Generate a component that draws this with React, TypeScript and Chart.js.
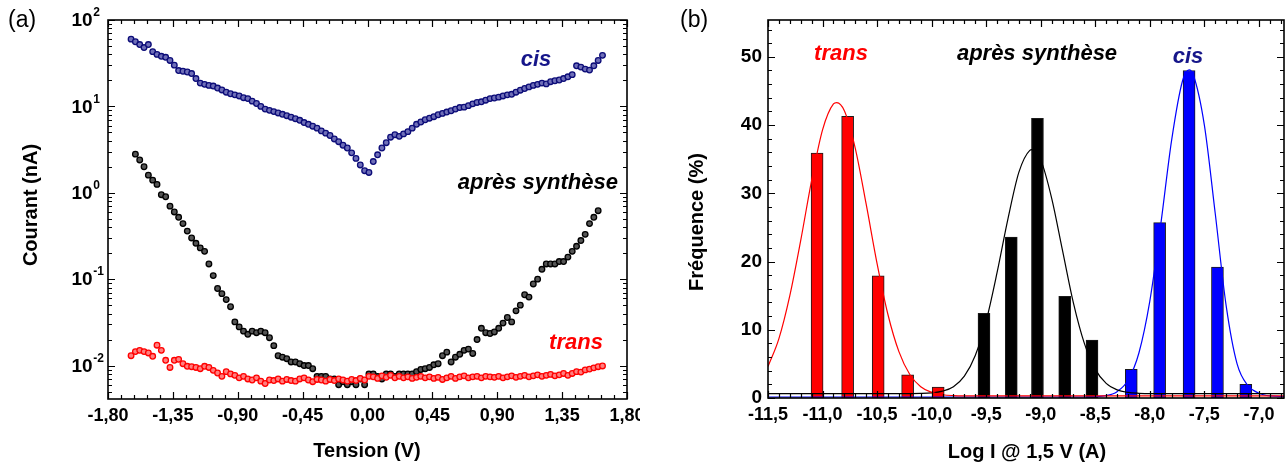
import React, { useEffect, useRef } from 'react';
import { Chart, registerables } from 'chart.js';

Chart.register(...registerables);

// ---------- Panel (a): I(V) curves ----------
const VOLTAGE = [
  -1.64, -1.61, -1.58, -1.55, -1.52, -1.49, -1.46, -1.43, -1.40, -1.37,
  -1.34, -1.31, -1.28, -1.25, -1.22, -1.19, -1.16, -1.13, -1.10, -1.07,
  -1.04, -1.01, -0.98, -0.95, -0.92, -0.89, -0.86, -0.83, -0.80, -0.77,
  -0.74, -0.71, -0.68, -0.65, -0.62, -0.59, -0.56, -0.53, -0.50, -0.47,
  -0.44, -0.41, -0.38, -0.35, -0.32, -0.29, -0.26, -0.23, -0.20, -0.17,
  -0.14, -0.11, -0.08, -0.05, -0.02, 0.01, 0.04, 0.07, 0.10, 0.13,
  0.16, 0.19, 0.22, 0.25, 0.28, 0.31, 0.34, 0.37, 0.40, 0.43,
  0.46, 0.49, 0.52, 0.55, 0.58, 0.61, 0.64, 0.67, 0.70, 0.73,
  0.76, 0.79, 0.82, 0.85, 0.88, 0.91, 0.94, 0.97, 1.00, 1.03,
  1.06, 1.09, 1.12, 1.15, 1.18, 1.21, 1.24, 1.27, 1.30, 1.33,
  1.36, 1.39, 1.42, 1.45, 1.48, 1.51, 1.54, 1.57, 1.60, 1.63,
];

const CIS_NA = [
  60, 56, 52, 48, 52, 43, 40, 38, 37, 34,
  30, 26, 25.5, 25, 24, 21, 18.6, 18, 17.5, 17.2,
  16.3, 15.5, 14.6, 14, 13.6, 13.2, 12.6, 12.3, 11.5, 10.8,
  10, 9.3, 9.0, 8.7, 8.4, 8.1, 7.8, 7.5, 7.2, 6.9,
  6.5, 6.2, 5.9, 5.6, 5.2, 4.9, 4.6, 4.2, 3.9, 3.55,
  3.3, 2.9, 2.5, 2.1, 1.8, 1.72, 2.3, 2.75, 3.3, 3.8,
  4.4, 4.7, 4.5, 4.8, 5.1, 5.6, 6.2, 6.6, 7.0, 7.3,
  7.6, 8.0, 8.3, 8.6, 8.9, 9.3, 9.7, 9.8, 10.2, 10.7,
  11.1, 11.3, 11.8, 12.3, 12.5, 12.8, 13.2, 13.6, 13.8, 14.6,
  15.4, 16.1, 16.8, 17.5, 18.0, 18.6, 18.2, 19.3, 19.8, 20.2,
  21.0, 22.0, 23.3, 29.5, 28.5, 27.0, 26.3, 29.5, 34, 39,
];

const SYNTH_NA = [
  null, 2.8, 2.4, 2.0, 1.6, 1.4, 1.25, 0.95, 0.9, 0.7,
  0.6, 0.52, 0.44, 0.36, 0.30, 0.26, 0.23, 0.21, 0.15, 0.11,
  0.078, 0.068, 0.058, 0.048, 0.032, 0.028, 0.025, 0.023, 0.025, 0.024,
  0.025, 0.024, 0.021, 0.017, 0.013, 0.0125, 0.012, 0.011, 0.011, 0.0105,
  0.010, 0.010, 0.0092, 0.0075, 0.0075, 0.0075, 0.007, 0.007, 0.006, 0.0065,
  0.006, 0.0065, 0.006, 0.007, 0.006, 0.008, 0.008, 0.0075, 0.007, 0.008,
  0.008, 0.0075, 0.008, 0.008, 0.008, 0.008, 0.0085, 0.009, 0.0092, 0.0095,
  0.0102, 0.0105, 0.013, 0.0143, 0.011, 0.0125, 0.0135, 0.015, 0.0155, 0.0138,
  0.02, 0.027, 0.024, 0.0235, 0.0245, 0.027, 0.031, 0.036, 0.032, 0.043,
  0.05, 0.066, 0.062, 0.088, 0.1, 0.13, 0.15, 0.15, 0.15, 0.16,
  0.16, 0.18, 0.21, 0.24, 0.28, 0.33, 0.44, 0.52, 0.62, null,
];

const TRANS_NA = [
  0.013, 0.0145, 0.015, 0.0145, 0.014, 0.0128, 0.0172, 0.015, 0.0115, 0.0095,
  0.0115, 0.0118, 0.0105, 0.0098, 0.0097, 0.0095, 0.0092, 0.0098, 0.0095, 0.0088,
  0.0082, 0.0075, 0.0085, 0.008, 0.0077, 0.0072, 0.0075, 0.007, 0.0068, 0.0072,
  0.0066, 0.0062, 0.0068, 0.0067, 0.007, 0.0066, 0.0069, 0.0067, 0.0066, 0.007,
  0.0072, 0.0068, 0.0065, 0.0069, 0.0068, 0.0066, 0.0069, 0.0067, 0.007, 0.0068,
  0.0066, 0.0069, 0.0067, 0.0071, 0.0068, 0.0075, 0.0074, 0.0071, 0.0076, 0.0073,
  0.0077, 0.0072, 0.0075, 0.0072, 0.0074, 0.0071, 0.0073, 0.0075, 0.0072, 0.0074,
  0.0071, 0.0073, 0.0069, 0.0072, 0.0075, 0.0071, 0.0074, 0.0076, 0.0072, 0.0074,
  0.0075, 0.0072, 0.0075, 0.0074, 0.0073, 0.0075, 0.0072, 0.0074, 0.0076, 0.0073,
  0.0075, 0.0077, 0.0074, 0.0076, 0.0078, 0.0075, 0.0077, 0.0079, 0.0076, 0.0078,
  0.0081, 0.0077, 0.0081, 0.0085, 0.0084, 0.0089, 0.0091, 0.0094, 0.0097, 0.0099,
];

const LEFT_Y_DECADES = [-2, -1, 0, 1, 2];

// ---------- Panel (b): histograms + fits ----------
const TRANS_BIN = [-11.05, -10.77, -10.49, -10.22, -9.94];
const TRANS_FREQ = [35.9, 41.3, 17.9, 3.4, 1.6];
const SYNTH_BIN = [-9.52, -9.27, -9.03, -8.78, -8.53];
const SYNTH_FREQ = [12.4, 23.6, 41.0, 14.9, 8.5];
const CIS_BIN = [-8.17, -7.91, -7.64, -7.38, -7.12];
const CIS_FREQ = [4.2, 25.7, 48.0, 19.2, 2.0];

const TRANS_FIT_X = [-11.5, -11.4, -11.3, -11.2, -11.1, -11.0, -10.9, -10.87, -10.8, -10.7, -10.6, -10.5, -10.4, -10.3, -10.2, -10.1, -10.0, -9.9, -9.8, -9.6, -9.0, -8.0, -7.0, -6.77];
const TRANS_FIT_Y = [4.6, 8.7, 15.0, 23.1, 31.9, 39.3, 43.1, 43.3, 42.1, 36.6, 28.4, 19.7, 12.2, 6.8, 3.45, 1.66, 0.82, 0.48, 0.36, 0.3, 0.3, 0.3, 0.3, 0.3];
const SYNTH_FIT_X = [-11.5, -10.5, -10.3, -10.1, -10.0, -9.9, -9.8, -9.7, -9.6, -9.5, -9.4, -9.3, -9.2, -9.1, -9.08, -9.0, -8.9, -8.8, -8.7, -8.6, -8.5, -8.4, -8.3, -8.2, -8.1, -8.0, -7.0, -6.77];
const SYNTH_FIT_Y = [0.64, 0.64, 0.64, 0.67, 0.75, 1.0, 1.66, 3.2, 6.24, 11.3, 18.4, 26.3, 33.1, 36.3, 36.4, 34.9, 29.3, 21.6, 13.9, 8.0, 4.2, 2.14, 1.19, 0.82, 0.69, 0.64, 0.64, 0.64];
const CIS_FIT_X = [-11.5, -8.6, -8.4, -8.3, -8.2, -8.1, -8.0, -7.9, -7.8, -7.7, -7.64, -7.6, -7.5, -7.4, -7.3, -7.2, -7.1, -7.0, -6.9, -6.77];
const CIS_FIT_Y = [0.15, 0.15, 0.35, 0.93, 2.6, 6.6, 14.2, 25.4, 37.8, 46.5, 48.1, 47.3, 40.0, 27.0, 13.5, 5.0, 1.8, 0.7, 0.3, 0.2];

// ---------- styling ----------
const SANS = '"Liberation Sans", Arial, Helvetica, sans-serif';
const NAVY = '#16168a';
const TICK_FONT = { family: SANS, size: 18, weight: 'bold' as const };
const TITLE_FONT = `bold 20px ${SANS}`;
const NOTE_FONT = `italic bold 22px ${SANS}`;
const PANEL_FONT = `23px ${SANS}`;

type Txt = { t: string; x: number; y: number; font: string; color?: string; align?: CanvasTextAlign; rot?: number };
type Axes = { xMajor: number[]; xMinor: number[]; yMajor: number[]; yMinor: number[] };

function range(a: number, b: number, step: number): number[] {
  const out: number[] = [];
  const n = Math.round((b - a) / step);
  for (let i = 0; i <= n; i++) out.push(Math.round((a + i * step) * 1000) / 1000);
  return out;
}

function drawText(ctx: CanvasRenderingContext2D, t: Txt) {
  ctx.save();
  ctx.font = t.font;
  ctx.fillStyle = t.color || '#000';
  ctx.textAlign = t.align || 'center';
  ctx.textBaseline = 'middle';
  ctx.translate(t.x, t.y);
  if (t.rot) ctx.rotate(t.rot);
  ctx.fillText(t.t, 0, 0);
  ctx.restore();
}

function framePlugin(axes: Axes, texts: Txt[], extra?: (chart: any) => void) {
  return {
    id: 'frame',
    afterDatasetsDraw(chart: any) {
      const { ctx, chartArea: a, scales } = chart;
      const xs = scales.x;
      const ys = scales.y;
      ctx.save();
      ctx.strokeStyle = '#000';
      ctx.lineWidth = 1.2;
      ctx.beginPath();
      const xt = (vals: number[], len: number) =>
        vals.forEach((v) => {
          const p = Math.round(xs.getPixelForValue(v)) + 0.5;
          if (p < a.left - 1 || p > a.right + 1) return;
          ctx.moveTo(p, a.bottom);
          ctx.lineTo(p, a.bottom - len);
          ctx.moveTo(p, a.top);
          ctx.lineTo(p, a.top + len);
        });
      const yt = (vals: number[], len: number) =>
        vals.forEach((v) => {
          const p = Math.round(ys.getPixelForValue(v)) + 0.5;
          if (p < a.top - 1 || p > a.bottom + 1) return;
          ctx.moveTo(a.left, p);
          ctx.lineTo(a.left + len, p);
          ctx.moveTo(a.right, p);
          ctx.lineTo(a.right - len, p);
        });
      xt(axes.xMajor, 7);
      xt(axes.xMinor, 4);
      yt(axes.yMajor, 7);
      yt(axes.yMinor, 4);
      ctx.stroke();
      ctx.lineWidth = 1.6;
      ctx.strokeRect(a.left, a.top, a.right - a.left, a.bottom - a.top);
      ctx.restore();
      texts.forEach((t) => drawText(ctx, t));
      if (extra) extra(chart);
    },
  };
}

function pts(xs: number[], ys: (number | null)[]) {
  const out: { x: number; y: number }[] = [];
  xs.forEach((x, i) => {
    const y = ys[i];
    if (y !== null && y !== undefined) out.push({ x, y });
  });
  return out;
}

const fmtComma = (v: number, d: number) => {
  const n = Math.abs(v) < 1e-9 ? 0 : v;
  return n.toFixed(d).replace('.', ',');
};

export default function App() {
  const leftRef = useRef<HTMLCanvasElement>(null);
  const rightRef = useRef<HTMLCanvasElement>(null);

  useEffect(() => {
    Chart.defaults.font.family = SANS;
    const hidden = { display: false, drawTicks: false };

    // log minor ticks
    const logMinor: number[] = [];
    for (let e = -3; e <= 1; e++) for (let m = 2; m <= 9; m++) logMinor.push(m * Math.pow(10, e));

    const marker = { pointRadius: 2.8, pointBorderWidth: 1.3, showLine: false };

    const left = new Chart(leftRef.current as HTMLCanvasElement, {
      type: 'scatter',
      data: {
        datasets: [
          {
            label: 'cis',
            data: pts(VOLTAGE, CIS_NA),
            pointBorderColor: '#0c0c78',
            pointBackgroundColor: '#6f6fb8',
            ...marker,
          },
          {
            label: 'trans',
            data: pts(VOLTAGE, TRANS_NA),
            pointBorderColor: '#ff0000',
            pointBackgroundColor: '#ff7f7f',
            ...marker,
          },
          {
            label: 'après synthèse',
            data: pts(VOLTAGE, SYNTH_NA),
            pointBorderColor: '#000000',
            pointBackgroundColor: '#555555',
            ...marker,
          },
        ],
      },
      options: {
        responsive: false,
        animation: false,
        events: [],
        devicePixelRatio: 1,
        layout: { padding: { left: 0, top: 20, right: 13, bottom: 0 } },
        plugins: { legend: { display: false }, tooltip: { enabled: false } },
        scales: {
          x: {
            type: 'linear',
            min: -1.8,
            max: 1.8,
            grid: hidden,
            border: { display: false },
            ticks: {
              stepSize: 0.45,
              padding: 6,
              color: '#000',
              font: TICK_FONT,
              maxRotation: 0,
              autoSkip: false,
              callback: (v: any) => fmtComma(Number(v), 2),
            },
            afterFit: (s: any) => {
              s.height = 67;
              s.paddingLeft = 0;
              s.paddingRight = 0;
            },
          },
          y: {
            type: 'logarithmic',
            min: 0.0041,
            max: 100,
            grid: hidden,
            border: { display: false },
            ticks: { display: false },
            afterFit: (s: any) => {
              s.width = 108;
              s.paddingTop = 0;
              s.paddingBottom = 0;
            },
          },
        },
      } as any,
      plugins: [
        framePlugin(
          {
            xMajor: range(-1.8, 1.8, 0.45),
            xMinor: range(-1.8, 1.8, 0.09),
            yMajor: LEFT_Y_DECADES.map((e) => Math.pow(10, e)),
            yMinor: logMinor,
          },
          [
            { t: '(a)', x: 8, y: 21, font: PANEL_FONT, align: 'left' },
            { t: 'cis', x: 536, y: 60, font: NOTE_FONT, color: NAVY },
            { t: 'après synthèse', x: 618, y: 183, font: NOTE_FONT, align: 'right' },
            { t: 'trans', x: 576, y: 343, font: NOTE_FONT, color: '#ff0000' },
            { t: 'Tension (V)', x: 367, y: 451, font: TITLE_FONT },
            { t: 'Courant (nA)', x: 31, y: 205, font: TITLE_FONT, rot: -Math.PI / 2 },
          ],
          (chart: any) => {
            const ctx: CanvasRenderingContext2D = chart.ctx;
            const ys = chart.scales.y;
            LEFT_Y_DECADES.forEach((e) => {
              const py = ys.getPixelForValue(Math.pow(10, e));
              ctx.save();
              ctx.fillStyle = '#000';
              ctx.textBaseline = 'middle';
              ctx.textAlign = 'left';
              ctx.font = `bold 19px ${SANS}`;
              ctx.fillText('10', 71.5, py + 1);
              const w = ctx.measureText('10').width;
              ctx.font = `bold 12px ${SANS}`;
              ctx.fillText(String(e), 71.5 + w + 0.5, py - 7);
              ctx.restore();
            });
          }
        ),
      ],
    });

    const barStyle = { borderColor: '#1a1a1a', borderWidth: 1, barThickness: 12, grouped: false, order: 2 };
    const lineStyle = { pointRadius: 0, borderWidth: 1.2, cubicInterpolationMode: 'monotone', fill: false, order: 1 };

    const right = new Chart(rightRef.current as HTMLCanvasElement, {
      type: 'bar',
      data: {
        datasets: [
          { type: 'line', label: 'fit trans', data: pts(TRANS_FIT_X, TRANS_FIT_Y), borderColor: '#ff0000', ...lineStyle },
          { type: 'line', label: 'fit après synthèse', data: pts(SYNTH_FIT_X, SYNTH_FIT_Y), borderColor: '#000000', ...lineStyle },
          { type: 'line', label: 'fit cis', data: pts(CIS_FIT_X, CIS_FIT_Y), borderColor: '#0000ff', ...lineStyle },
          { type: 'bar', label: 'trans', data: pts(TRANS_BIN, TRANS_FREQ), backgroundColor: '#ff0000', ...barStyle },
          { type: 'bar', label: 'après synthèse', data: pts(SYNTH_BIN, SYNTH_FREQ), backgroundColor: '#000000', ...barStyle },
          { type: 'bar', label: 'cis', data: pts(CIS_BIN, CIS_FREQ), backgroundColor: '#0000ff', ...barStyle },
        ],
      },
      options: {
        responsive: false,
        animation: false,
        events: [],
        devicePixelRatio: 1,
        layout: { padding: { left: 0, top: 20, right: 3, bottom: 0 } },
        plugins: { legend: { display: false }, tooltip: { enabled: false } },
        scales: {
          x: {
            type: 'linear',
            min: -11.5,
            max: -6.77,
            offset: false,
            grid: { ...hidden, offset: false },
            border: { display: false },
            ticks: {
              stepSize: 0.5,
              includeBounds: false,
              padding: 6,
              color: '#000',
              font: TICK_FONT,
              maxRotation: 0,
              autoSkip: false,
              callback: (v: any) => fmtComma(Number(v), 1),
            },
            afterFit: (s: any) => {
              s.height = 68;
              s.paddingLeft = 0;
              s.paddingRight = 0;
            },
          },
          y: {
            type: 'linear',
            min: 0,
            max: 55.4,
            grid: hidden,
            border: { display: false },
            ticks: {
              stepSize: 10,
              includeBounds: false,
              padding: 6,
              color: '#000',
              font: { ...TICK_FONT, size: 19 },
              callback: (v: any) => String(Math.round(Number(v))),
            },
            afterFit: (s: any) => {
              s.width = 128;
              s.paddingTop = 0;
              s.paddingBottom = 0;
            },
          },
        },
      } as any,
      plugins: [
        framePlugin(
          {
            xMajor: range(-11.5, -7.0, 0.5),
            xMinor: range(-11.5, -6.8, 0.1),
            yMajor: range(0, 50, 10),
            yMinor: range(0, 54, 2),
          },
          [
            { t: '(b)', x: 40, y: 21, font: PANEL_FONT, align: 'left' },
            { t: 'trans', x: 201, y: 54, font: NOTE_FONT, color: '#ff0000' },
            { t: 'après synthèse', x: 397, y: 54, font: NOTE_FONT },
            { t: 'cis', x: 548, y: 57, font: NOTE_FONT, color: NAVY },
            { t: 'Log I @ 1,5 V (A)', x: 387, y: 452, font: TITLE_FONT },
            { t: 'Fréquence (%)', x: 57, y: 222, font: TITLE_FONT, rot: -Math.PI / 2 },
          ]
        ),
      ],
    });

    return () => {
      left.destroy();
      right.destroy();
    };
  }, []);

  return (
    <div style={{ position: 'absolute', left: 0, top: 0, width: 1287, height: 466, background: '#fff' }}>
      <canvas ref={leftRef} width={640} height={466} style={{ position: 'absolute', left: 0, top: 0 }} />
      <canvas ref={rightRef} width={647} height={466} style={{ position: 'absolute', left: 640, top: 0 }} />
    </div>
  );
}
